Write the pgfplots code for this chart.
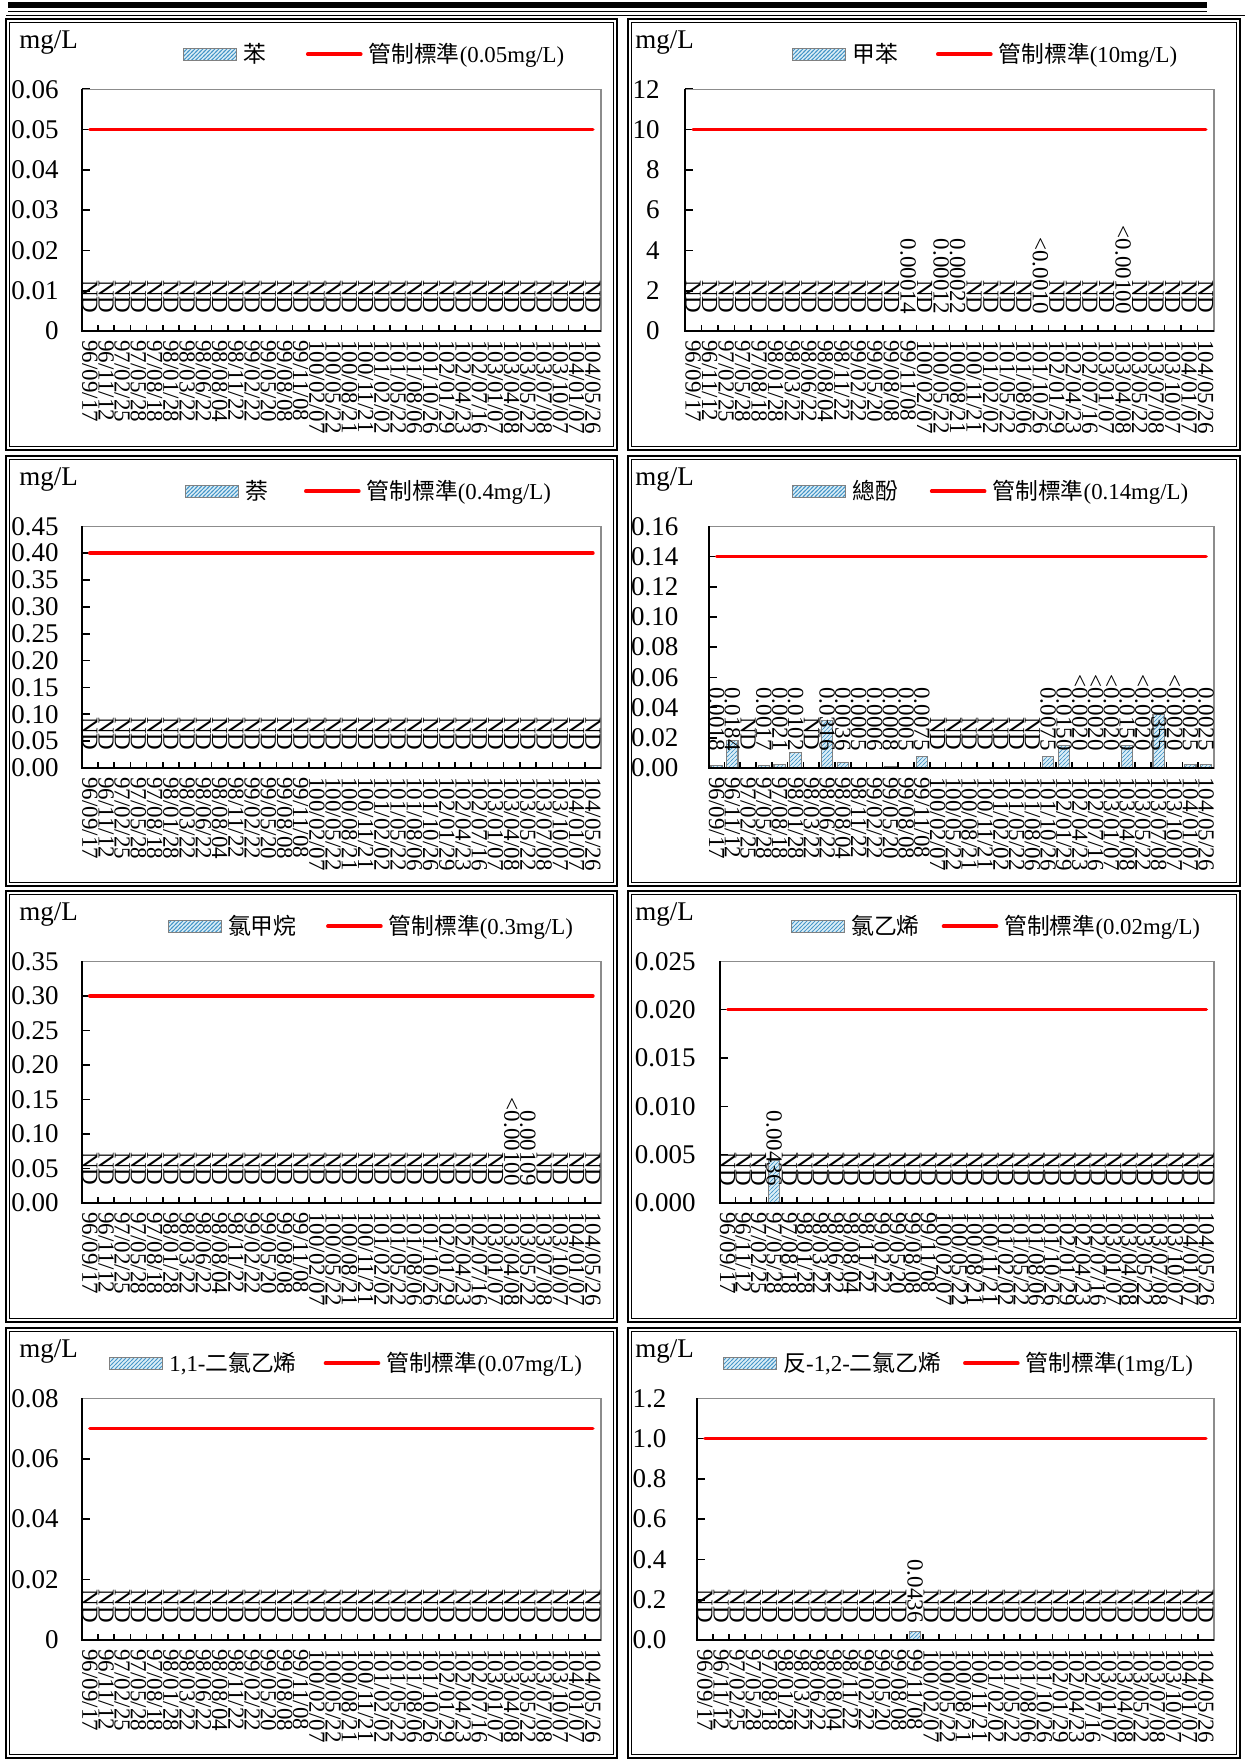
\documentclass[border=0pt]{standalone}
\usepackage{fontspec}
\setmainfont{Liberation Serif}
\newfontfamily\cjk{Noto Sans CJK TC}
\usepackage{pgfplots}
\pgfplotsset{compat=1.18}
\usepackage{pgfplotstable}
\usetikzlibrary{patterns,calc}

\definecolor{barfill}{RGB}{221,239,247}
\definecolor{hatchcol}{RGB}{70,150,200}
\definecolor{bargray}{RGB}{128,128,128}
\definecolor{axgray}{RGB}{140,140,140}

\pgfdeclarepatternformonly{finehatch}{\pgfqpoint{-0.5pt}{-0.5pt}}{\pgfqpoint{2.5pt}{2.5pt}}{\pgfqpoint{2pt}{2pt}}{%
  \pgfsetlinewidth{0.35pt}\pgfpathmoveto{\pgfqpoint{-0.5pt}{-0.5pt}}\pgfpathlineto{\pgfqpoint{2.5pt}{2.5pt}}\pgfusepath{stroke}}

% ---------------- label tables ----------------
\pgfplotstableread{
x y l
1 0 ND
2 0 ND
3 0 ND
4 0 ND
5 0 ND
6 0 ND
7 0 ND
8 0 ND
9 0 ND
10 0 ND
11 0 ND
12 0 ND
13 0 ND
14 0 ND
15 0 ND
16 0 ND
17 0 ND
18 0 ND
19 0 ND
20 0 ND
21 0 ND
22 0 ND
23 0 ND
24 0 ND
25 0 ND
26 0 ND
27 0 ND
28 0 ND
29 0 ND
30 0 ND
31 0 ND
32 0 ND
}\NDall

\pgfplotstableread{
x y l
1 0 ND
2 0 ND
3 0 ND
4 0 ND
5 0 ND
6 0 ND
7 0 ND
8 0 ND
9 0 ND
10 0 ND
11 0 ND
12 0 ND
13 0 ND
14 0 0.00014
15 0 ND
16 0 0.00012
17 0 0.00022
18 0 ND
19 0 ND
20 0 ND
21 0 ND
22 0 <0.0010
23 0 ND
24 0 ND
25 0 ND
26 0 ND
27 0 <0.00100
28 0 ND
29 0 ND
30 0 ND
31 0 ND
32 0 ND
}\labB

\pgfplotstableread{
x y l
1 0 0.0018
2 0 0.0184
3 0 ND
4 0 0.0017
5 0 0.0021
6 0 0.0102
7 0 ND
8 0 0.0316
9 0 0.0036
10 0 0.0005
11 0 0.0006
12 0 0.0008
13 0 0.0005
14 0 0.0075
15 0 ND
16 0 ND
17 0 ND
18 0 ND
19 0 ND
20 0 ND
21 0 ND
22 0 0.0075
23 0 0.0150
24 0 <0.0020
25 0 <0.0020
26 0 <0.0020
27 0 0.0150
28 0 <0.0020
29 0 0.0355
30 0 <0.0020
31 0 0.0025
32 0 0.0025
}\labD

\pgfplotstableread{
x y l
1 0 ND
2 0 ND
3 0 ND
4 0 ND
5 0 ND
6 0 ND
7 0 ND
8 0 ND
9 0 ND
10 0 ND
11 0 ND
12 0 ND
13 0 ND
14 0 ND
15 0 ND
16 0 ND
17 0 ND
18 0 ND
19 0 ND
20 0 ND
21 0 ND
22 0 ND
23 0 ND
24 0 ND
25 0 ND
26 0 ND
27 0 <0.00100
28 0 0.00109
29 0 ND
30 0 ND
31 0 ND
32 0 ND
}\labE

\pgfplotstableread{
x y l
1 0 ND
2 0 ND
3 0 ND
4 0 0.00436
5 0 ND
6 0 ND
7 0 ND
8 0 ND
9 0 ND
10 0 ND
11 0 ND
12 0 ND
13 0 ND
14 0 ND
15 0 ND
16 0 ND
17 0 ND
18 0 ND
19 0 ND
20 0 ND
21 0 ND
22 0 ND
23 0 ND
24 0 ND
25 0 ND
26 0 ND
27 0 ND
28 0 ND
29 0 ND
30 0 ND
31 0 ND
32 0 ND
}\labF

\pgfplotstableread{
x y l
1 0 ND
2 0 ND
3 0 ND
4 0 ND
5 0 ND
6 0 ND
7 0 ND
8 0 ND
9 0 ND
10 0 ND
11 0 ND
12 0 ND
13 0 ND
14 0 0.0436
15 0 ND
16 0 ND
17 0 ND
18 0 ND
19 0 ND
20 0 ND
21 0 ND
22 0 ND
23 0 ND
24 0 ND
25 0 ND
26 0 ND
27 0 ND
28 0 ND
29 0 ND
30 0 ND
31 0 ND
32 0 ND
}\labH

\pgfplotsset{
 datelabels/.style={xticklabels={96/09/17,96/11/12,97/02/25,97/05/28,97/08/18,98/01/28,98/03/22,98/06/22,98/08/04,98/11/22,99/02/22,99/05/20,99/08/08,99/11/08,100/02/07,100/05/22,100/08/21,100/11/21,101/02/02,101/05/22,101/08/06,101/10/26,102/01/29,102/04/23,102/07/16,103/01/07,103/04/08,103/05/22,103/07/08,103/10/07,104/01/07,104/05/26}},
 panel/.style={
  scale only axis, height=120.85pt, anchor=north west,
  xmin=0.5, xmax=32.5, ymin=0, clip=false,
  scaled y ticks=false,
  axis line style={draw=axgray, line width=0.6pt},
  tick align=inside, xtick pos=left, ytick pos=left,
  xtick={1,...,32}, datelabels, xtick style={draw=none},
  ytick style={black, line width=0.8pt}, major tick length=4pt,
  xticklabel style={font=\fontsize{11.5}{13}\selectfont, yshift=-4.5pt, rotate=-90, anchor=west, inner sep=0pt},
  yticklabel style={font=\fontsize{13.5}{16}\selectfont, anchor=east, inner sep=0pt},
  legend columns=2, legend cell align=left,
  legend style={draw=none, fill=none, inner sep=0pt, outer sep=0pt, anchor=west,
    font=\fontsize{11.4}{14}\selectfont, nodes={inner xsep=3pt, inner ysep=0pt}},
  after end axis/.code={
    \draw[black, line width=1pt] (rel axis cs:0,1) -- (rel axis cs:0,0) -- (rel axis cs:1,0);
    \foreach \k in {1.5,2.5,...,31.5}{\draw[black, line width=0.8pt] (axis cs:\k,0) -- ++(0pt,3pt);}
  },
 },
 bars/.style={ybar, bar width=0.72, fill=barfill, draw=bargray, line width=0.6pt,
   postaction={pattern=finehatch, pattern color=hatchcol},
   legend image code/.code={\draw[fill=barfill, draw=bargray, line width=0.6pt, postaction={pattern=finehatch, pattern color=hatchcol}] (0pt,-3pt) rectangle (26.5pt,3pt);}},
 stdline/.style={red, line width=1.8pt, line cap=round,
   legend image code/.code={\draw[red, line width=1.8pt, line cap=round] (0.5pt,0pt) -- (27pt,0pt);}},
 lblplot/.style={draw=none, mark=none, forget plot, nodes near coords={\pgfplotspointmeta},
   point meta=explicit symbolic,
   every node near coord/.append style={font=\fontsize{11.5}{13}\selectfont, yshift=8.5pt, rotate=-90, anchor=east, inner sep=0pt, black}},
}

\newcommand{\cellframe}[4]{%
  \draw[line width=0.6pt] (#1,#2) rectangle (#3,#4);
  \draw[line width=0.6pt] ($(#1,#2)+(1.75pt,-1.75pt)$) rectangle ($(#3,#4)+(-1.75pt,1.75pt)$);}

\begin{document}
\begin{tikzpicture}
\path[use as bounding box] (0,0) rectangle (622.5pt,-880pt);
% header rules
\fill (4pt,-0.85pt) rectangle (603.5pt,-4.15pt);
\draw[line width=0.5pt] (4pt,-5.85pt) -- (603.5pt,-5.85pt);
\draw[line width=0.5pt] (3pt,-7.85pt) -- (622.5pt,-7.85pt);
% cell frames
\cellframe{3pt}{-9.5pt}{308.5pt}{-225pt}
\cellframe{314pt}{-9.5pt}{620pt}{-225pt}
\cellframe{3pt}{-228pt}{308.5pt}{-443pt}
\cellframe{314pt}{-228pt}{620pt}{-443pt}
\cellframe{3pt}{-445.5pt}{308.5pt}{-661pt}
\cellframe{314pt}{-445.5pt}{620pt}{-661pt}
\cellframe{3pt}{-664pt}{308.5pt}{-879pt}
\cellframe{314pt}{-664pt}{620pt}{-879pt}
% unit labels
\begin{scope}[every node/.style={anchor=base west, inner sep=0pt, font=\fontsize{13.5}{16}\selectfont}]
\node at (9.5pt,-24.25pt) {mg/L};
\node at (317.5pt,-24.25pt) {mg/L};
\node at (9.5pt,-242.75pt) {mg/L};
\node at (317.5pt,-242.75pt) {mg/L};
\node at (9.5pt,-460.25pt) {mg/L};
\node at (317.5pt,-460.25pt) {mg/L};
\node at (9.5pt,-678.75pt) {mg/L};
\node at (317.5pt,-678.75pt) {mg/L};
\end{scope}

% ===== 1 苯 =====
\begin{axis}[panel, at={(40.85pt,-44.65pt)}, width=259.65pt, ymax=0.06,
  ytick={0,0.01,0.02,0.03,0.04,0.05,0.06}, yticklabels={0,0.01,0.02,0.03,0.04,0.05,0.06},
  yticklabel style={xshift=-11.35pt},
  legend style={at={(0.195,1.145)}, /tikz/every even column/.append style={column sep=17pt}}]
\addplot[bars] coordinates {(1,0)(2,0)(3,0)(4,0)(5,0)(6,0)(7,0)(8,0)(9,0)(10,0)(11,0)(12,0)(13,0)(14,0)(15,0)(16,0)(17,0)(18,0)(19,0)(20,0)(21,0)(22,0)(23,0)(24,0)(25,0)(26,0)(27,0)(28,0)(29,0)(30,0)(31,0)(32,0)};
\addlegendentry{\cjk 苯}
\addplot[stdline] coordinates {(1,0.05)(32,0.05)};
\addlegendentry{{\cjk 管制標準}(0.05mg/L)}
\addplot[lblplot] table[x=x,y=y,meta=l] {\NDall};
\end{axis}

% ===== 2 甲苯 =====
\begin{axis}[panel, at={(342.4pt,-44.65pt)}, width=264.6pt, ymax=12,
  ytick={0,2,4,6,8,10,12}, yticklabels={0,2,4,6,8,10,12},
  yticklabel style={xshift=-12.35pt},
  legend style={at={(0.203,1.145)}, /tikz/every even column/.append style={column sep=16pt}}]
\addplot[bars] coordinates {(1,0)(2,0)(3,0)(4,0)(5,0)(6,0)(7,0)(8,0)(9,0)(10,0)(11,0)(12,0)(13,0)(14,0.00014)(15,0)(16,0.00012)(17,0.00022)(18,0)(19,0)(20,0)(21,0)(22,0)(23,0)(24,0)(25,0)(26,0)(27,0)(28,0)(29,0)(30,0)(31,0)(32,0)};
\addlegendentry{\cjk 甲苯}
\addplot[stdline] coordinates {(1,10)(32,10)};
\addlegendentry{{\cjk 管制標準}(10mg/L)}
\addplot[lblplot] table[x=x,y=y,meta=l] {\labB};
\end{axis}

% ===== 3 萘 =====
\begin{axis}[panel, at={(40.85pt,-263.15pt)}, width=259.65pt, ymax=0.45,
  ytick={0,0.05,0.1,0.15,0.2,0.25,0.3,0.35,0.4,0.45}, yticklabels={0.00,0.05,0.10,0.15,0.20,0.25,0.30,0.35,0.40,0.45},
  yticklabel style={xshift=-11.35pt},
  legend style={at={(0.199,1.145)}, /tikz/every even column/.append style={column sep=15pt}}]
\addplot[bars] coordinates {(1,0)(2,0)(3,0)(4,0)(5,0)(6,0)(7,0)(8,0)(9,0)(10,0)(11,0)(12,0)(13,0)(14,0)(15,0)(16,0)(17,0)(18,0)(19,0)(20,0)(21,0)(22,0)(23,0)(24,0)(25,0)(26,0)(27,0)(28,0)(29,0)(30,0)(31,0)(32,0)};
\addlegendentry{\cjk 萘}
\addplot[stdline] coordinates {(1,0.4)(32,0.4)};
\addlegendentry{{\cjk 管制標準}(0.4mg/L)}
\addplot[lblplot] table[x=x,y=y,meta=l] {\NDall};
\end{axis}

% ===== 4 總酚 =====
\begin{axis}[panel, at={(354.35pt,-263.15pt)}, width=252.65pt, ymax=0.16,
  ytick={0,0.02,0.04,0.06,0.08,0.1,0.12,0.14,0.16}, yticklabels={0.00,0.02,0.04,0.06,0.08,0.10,0.12,0.14,0.16},
  yticklabel style={xshift=-15pt},
  legend style={at={(0.165,1.145)}, /tikz/every even column/.append style={column sep=13pt}}]
\addplot[bars] coordinates {(1,0.0018)(2,0.0184)(3,0)(4,0.0017)(5,0.0021)(6,0.0102)(7,0)(8,0.0316)(9,0.0036)(10,0.0005)(11,0.0006)(12,0.0008)(13,0.0005)(14,0.0075)(15,0)(16,0)(17,0)(18,0)(19,0)(20,0)(21,0)(22,0.0075)(23,0.0150)(24,0)(25,0)(26,0)(27,0.0150)(28,0)(29,0.0355)(30,0)(31,0.0025)(32,0.0025)};
\addlegendentry{\cjk 總酚}
\addplot[stdline] coordinates {(1,0.14)(32,0.14)};
\addlegendentry{{\cjk 管制標準}(0.14mg/L)}
\addplot[lblplot] table[x=x,y=y,meta=l] {\labD};
\end{axis}

% ===== 5 氯甲烷 =====
\begin{axis}[panel, at={(40.85pt,-480.65pt)}, width=259.65pt, ymax=0.35,
  ytick={0,0.05,0.1,0.15,0.2,0.25,0.3,0.35}, yticklabels={0.00,0.05,0.10,0.15,0.20,0.25,0.30,0.35},
  yticklabel style={xshift=-11.35pt},
  legend style={at={(0.166,1.145)}, /tikz/every even column/.append style={column sep=11.8pt}}]
\addplot[bars] coordinates {(1,0)(2,0)(3,0)(4,0)(5,0)(6,0)(7,0)(8,0)(9,0)(10,0)(11,0)(12,0)(13,0)(14,0)(15,0)(16,0)(17,0)(18,0)(19,0)(20,0)(21,0)(22,0)(23,0)(24,0)(25,0)(26,0)(27,0)(28,0.00109)(29,0)(30,0)(31,0)(32,0)};
\addlegendentry{\cjk 氯甲烷}
\addplot[stdline] coordinates {(1,0.3)(32,0.3)};
\addlegendentry{{\cjk 管制標準}(0.3mg/L)}
\addplot[lblplot] table[x=x,y=y,meta=l] {\labE};
\end{axis}

% ===== 6 氯乙烯 =====
\begin{axis}[panel, at={(360pt,-480.65pt)}, width=247pt, ymax=0.025,
  ytick={0,0.005,0.01,0.015,0.02,0.025}, yticklabels={0.000,0.005,0.010,0.015,0.020,0.025},
  yticklabel style={xshift=-12pt},
  legend style={at={(0.144,1.145)}, /tikz/every even column/.append style={column sep=8pt}}]
\addplot[bars] coordinates {(1,0)(2,0)(3,0)(4,0.00436)(5,0)(6,0)(7,0)(8,0)(9,0)(10,0)(11,0)(12,0)(13,0)(14,0)(15,0)(16,0)(17,0)(18,0)(19,0)(20,0)(21,0)(22,0)(23,0)(24,0)(25,0)(26,0)(27,0)(28,0)(29,0)(30,0)(31,0)(32,0)};
\addlegendentry{\cjk 氯乙烯}
\addplot[stdline] coordinates {(1,0.02)(32,0.02)};
\addlegendentry{{\cjk 管制標準}(0.02mg/L)}
\addplot[lblplot] table[x=x,y=y,meta=l] {\labF};
\end{axis}

% ===== 7 1,1-二氯乙烯 =====
\begin{axis}[panel, at={(40.85pt,-699.15pt)}, width=259.65pt, ymax=0.08,
  ytick={0,0.02,0.04,0.06,0.08}, yticklabels={0,0.02,0.04,0.06,0.08},
  yticklabel style={xshift=-11.35pt},
  legend style={at={(0.053,1.145)}, /tikz/every even column/.append style={column sep=10.5pt}}]
\addplot[bars] coordinates {(1,0)(2,0)(3,0)(4,0)(5,0)(6,0)(7,0)(8,0)(9,0)(10,0)(11,0)(12,0)(13,0)(14,0)(15,0)(16,0)(17,0)(18,0)(19,0)(20,0)(21,0)(22,0)(23,0)(24,0)(25,0)(26,0)(27,0)(28,0)(29,0)(30,0)(31,0)(32,0)};
\addlegendentry{1,1-{\cjk 二氯乙烯}}
\addplot[stdline] coordinates {(1,0.07)(32,0.07)};
\addlegendentry{{\cjk 管制標準}(0.07mg/L)}
\addplot[lblplot] table[x=x,y=y,meta=l] {\NDall};
\end{axis}

% ===== 8 反-1,2-二氯乙烯 =====
\begin{axis}[panel, at={(348.4pt,-699.15pt)}, width=258.6pt, ymax=1.2,
  ytick={0,0.2,0.4,0.6,0.8,1,1.2}, yticklabels={0.0,0.2,0.4,0.6,0.8,1.0,1.2},
  yticklabel style={xshift=-15pt},
  legend style={at={(0.051,1.145)}, /tikz/every even column/.append style={column sep=8pt}}]
\addplot[bars] coordinates {(1,0)(2,0)(3,0)(4,0)(5,0)(6,0)(7,0)(8,0)(9,0)(10,0)(11,0)(12,0)(13,0)(14,0.0436)(15,0)(16,0)(17,0)(18,0)(19,0)(20,0)(21,0)(22,0)(23,0)(24,0)(25,0)(26,0)(27,0)(28,0)(29,0)(30,0)(31,0)(32,0)};
\addlegendentry{{\cjk 反}-1,2-{\cjk 二氯乙烯}}
\addplot[stdline] coordinates {(1,1)(32,1)};
\addlegendentry{{\cjk 管制標準}(1mg/L)}
\addplot[lblplot] table[x=x,y=y,meta=l] {\labH};
\end{axis}
\end{tikzpicture}
\end{document}
